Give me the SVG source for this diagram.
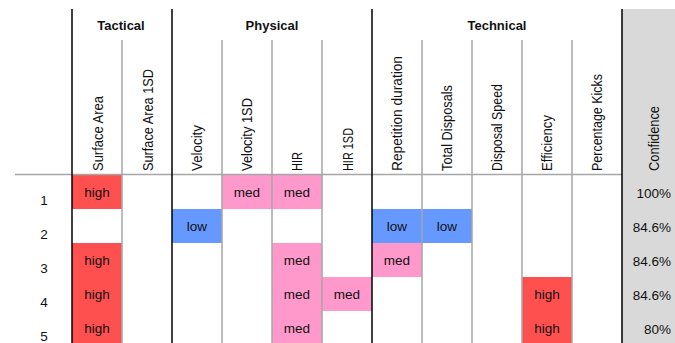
<svg xmlns="http://www.w3.org/2000/svg" width="675" height="343" viewBox="0 0 675 343">
<style>
text{font-family:"Liberation Sans",Arial,sans-serif;font-size:13.5px;fill:#111}
.grp{font-weight:bold;text-anchor:middle;font-size:13px}
.hd{font-size:14px}
.cell{text-anchor:middle}
.conf{text-anchor:end}
.rn{text-anchor:middle}
.hi{fill:#ff5050}
.md{fill:#ff99cc}
.lo{fill:#6699ff}
.blk{stroke:#000;stroke-width:1.5}
.gry{stroke:#a6a6a6;stroke-width:1.5}
</style>
<rect width="675" height="343" fill="#fff"/>
<rect id="conf-bg" x="622" y="9" width="53" height="334" fill="#d9d9d9"/>
<g id="cells">
<rect class="hi" x="72" y="175" width="50" height="34"/>
<rect class="md" x="222" y="175" width="50" height="34"/>
<rect class="md" x="272" y="175" width="50" height="34"/>
<rect class="lo" x="172" y="209" width="50" height="34"/>
<rect class="lo" x="372" y="209" width="50" height="34"/>
<rect class="lo" x="422" y="209" width="50" height="34"/>
<rect class="hi" x="72" y="243" width="50" height="100"/>
<rect class="md" x="272" y="243" width="50" height="100"/>
<rect class="md" x="372" y="243" width="50" height="34"/>
<rect class="md" x="322" y="277" width="50" height="34"/>
<rect class="hi" x="522" y="277" width="50" height="66"/>
</g>
<g id="connectors">
<line class="gry" x1="15" y1="174.5" x2="622" y2="174.5"/>
<line class="gry" x1="122" y1="40" x2="122" y2="343"/>
<line class="gry" x1="222" y1="40" x2="222" y2="343"/>
<line class="gry" x1="272" y1="40" x2="272" y2="343"/>
<line class="gry" x1="322" y1="40" x2="322" y2="343"/>
<line class="gry" x1="422" y1="40" x2="422" y2="343"/>
<line class="gry" x1="472" y1="40" x2="472" y2="343"/>
<line class="gry" x1="522" y1="40" x2="522" y2="343"/>
<line class="gry" x1="572" y1="40" x2="572" y2="343"/>
<line class="blk" x1="72" y1="9" x2="72" y2="343"/>
<line class="blk" x1="172" y1="9" x2="172" y2="343"/>
<line class="blk" x1="372" y1="9" x2="372" y2="343"/>
<line class="blk" x1="622" y1="9" x2="622" y2="343"/>
</g>
<g id="group-headers">
<text class="grp" x="121" y="30">Tactical</text>
<text class="grp" x="272" y="30">Physical</text>
<text class="grp" x="497" y="30">Technical</text>
</g>
<g id="column-headers">
<text class="hd" transform="translate(103,171) rotate(-90)" textLength="75" lengthAdjust="spacingAndGlyphs">Surface Area</text>
<text class="hd" transform="translate(153,171) rotate(-90)" textLength="102" lengthAdjust="spacingAndGlyphs">Surface Area 1SD</text>
<text class="hd" transform="translate(202,171) rotate(-90)" textLength="46" lengthAdjust="spacingAndGlyphs">Velocity</text>
<text class="hd" transform="translate(252,171) rotate(-90)" textLength="73" lengthAdjust="spacingAndGlyphs">Velocity 1SD</text>
<text class="hd" transform="translate(302,171) rotate(-90)" textLength="19" lengthAdjust="spacingAndGlyphs">HIR</text>
<text class="hd" transform="translate(353,171) rotate(-90)" textLength="43" lengthAdjust="spacingAndGlyphs">HIR 1SD</text>
<text class="hd" transform="translate(402,171) rotate(-90)" textLength="115" lengthAdjust="spacingAndGlyphs">Repetition duration</text>
<text class="hd" transform="translate(452,171) rotate(-90)" textLength="86" lengthAdjust="spacingAndGlyphs">Total Disposals</text>
<text class="hd" transform="translate(502,171) rotate(-90)" textLength="87" lengthAdjust="spacingAndGlyphs">Disposal Speed</text>
<text class="hd" transform="translate(552,171) rotate(-90)" textLength="56" lengthAdjust="spacingAndGlyphs">Efficiency</text>
<text class="hd" transform="translate(602,171) rotate(-90)" textLength="97" lengthAdjust="spacingAndGlyphs">Percentage Kicks</text>
<text class="hd" transform="translate(658.5,171) rotate(-90)" textLength="65" lengthAdjust="spacingAndGlyphs">Confidence</text>
</g>
<g id="row-1">
<text class="rn" x="44" y="204.5">1</text>
<text class="cell" x="97" y="196.5">high</text>
<text class="cell" x="247" y="196.5">med</text>
<text class="cell" x="297" y="196.5">med</text>
<text class="conf" x="671" y="197.5">100%</text>
</g>
<g id="row-2">
<text class="rn" x="44" y="238.5">2</text>
<text class="cell" x="197" y="230.5">low</text>
<text class="cell" x="397" y="230.5">low</text>
<text class="cell" x="447" y="230.5">low</text>
<text class="conf" x="671" y="231.5">84.6%</text>
</g>
<g id="row-3">
<text class="rn" x="44" y="272.5">3</text>
<text class="cell" x="97" y="264.5">high</text>
<text class="cell" x="297" y="264.5">med</text>
<text class="cell" x="397" y="264.5">med</text>
<text class="conf" x="671" y="265.5">84.6%</text>
</g>
<g id="row-4">
<text class="rn" x="44" y="306.5">4</text>
<text class="cell" x="97" y="298.5">high</text>
<text class="cell" x="297" y="298.5">med</text>
<text class="cell" x="347" y="298.5">med</text>
<text class="cell" x="547" y="298.5">high</text>
<text class="conf" x="671" y="299.5">84.6%</text>
</g>
<g id="row-5">
<text class="rn" x="44" y="340.5">5</text>
<text class="cell" x="97" y="332.5">high</text>
<text class="cell" x="297" y="332.5">med</text>
<text class="cell" x="547" y="332.5">high</text>
<text class="conf" x="671" y="333.5">80%</text>
</g>
</svg>
